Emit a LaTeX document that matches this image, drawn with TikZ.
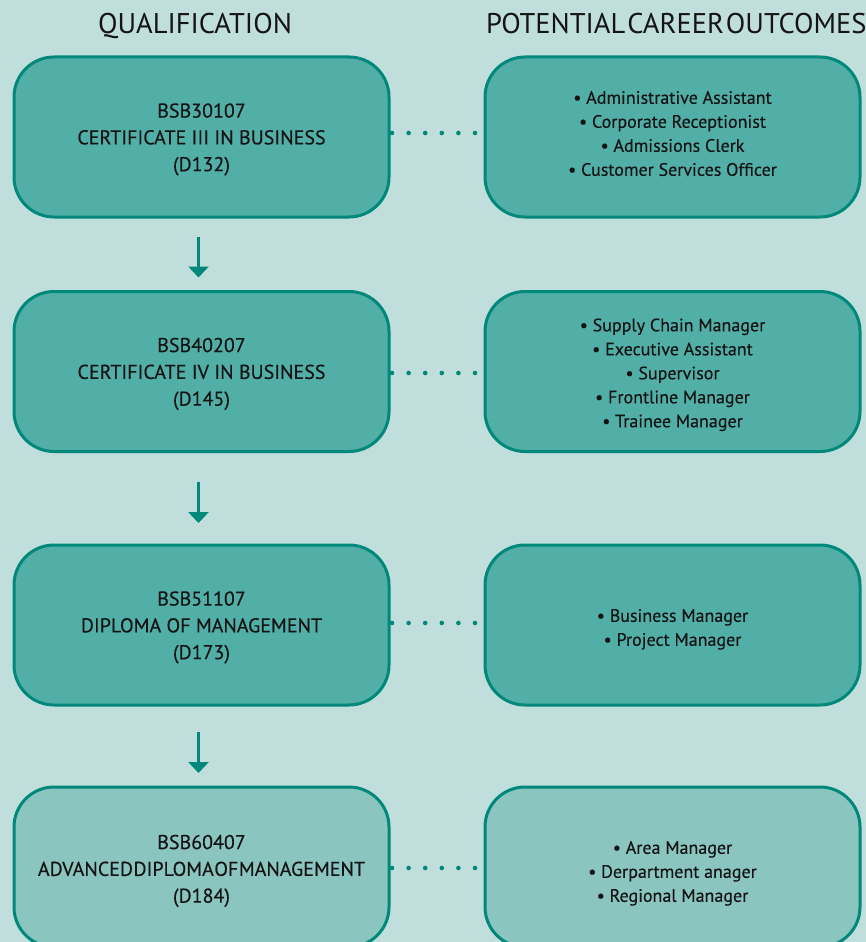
\documentclass[tikz,border=0pt]{standalone}
\usepackage{fontspec}
\setmainfont{PT Sans}
\newfontfamily\boxfont[FakeBold=0.35]{PT Sans}
\usetikzlibrary{arrows.meta}
\definecolor{bgc}{HTML}{C0DEDC}
\definecolor{fillA}{HTML}{52AFA7}
\definecolor{fillB}{HTML}{8AC5C0}
\definecolor{edgec}{HTML}{00897A}
\definecolor{txt}{HTML}{141414}
\newcommand{\lines}[1]{\begin{tabular}{@{}c@{}}#1\end{tabular}}
\tikzset{
  card/.style={draw=edgec, line width=3pt, rounded corners=40pt, minimum width=375pt,
    minimum height=160pt, outer sep=0pt, inner sep=0pt},
  cardA/.style={card, fill=fillA},
  cardB/.style={card, fill=fillB},
  qtext/.style={inner sep=0pt, text=txt, font=\boxfont\fontsize{20}{26.8}\selectfont},
  ctext/.style={inner sep=0pt, text=txt, font=\boxfont\fontsize{18}{24}\selectfont},
  header/.style={font=\fontsize{28.5}{30}\selectfont, text=txt, inner sep=0pt, outer sep=0pt, anchor=base},
  dotline/.style={edgec, line width=4.6pt, line cap=round, dash pattern=on 0pt off 16.6pt},
  downarrow/.style={draw=edgec, line width=3.6pt, -{Triangle[width=20pt,length=11pt]}}
}
\begin{document}
\begin{tikzpicture}[x=1pt,y=-1pt]
\fill[bgc] (0,0) rectangle (866,942);
\useasboundingbox (0,0) rectangle (866,942);
\begin{scope}
\clip (0,0) rectangle (866,942);
% headers
\node[header] (hq) at (195,34) {QUALIFICATION};
\node[header, anchor=base west] (hc) at (486,34) {\spaceskip=2pt POTENTIAL CAREER OUTCOMES};
% qualification boxes
\node[cardA] (q1) at (201.5,137) {};
\node[cardA] (q2) at (201.5,371.5) {};
\node[cardA] (q3) at (201.5,625) {};
\node[cardB] (q4) at (201.5,867) {};
\node[qtext] (q1t) at ([yshift=-2pt]q1.center) {\lines{BSB30107\\CERTIFICATE III IN BUSINESS\\(D132)}};
\node[qtext] (q2t) at ([yshift=-2pt]q2.center) {\lines{BSB40207\\CERTIFICATE IV IN BUSINESS\\(D145)}};
\node[qtext] (q3t) at ([yshift=-2pt]q3.center) {\lines{BSB51107\\DIPLOMA OF MANAGEMENT\\(D173)}};
\node[qtext] (q4t) at ([yshift=-3.5pt]q4.center) {\lines{BSB60407\\{\spaceskip=0.5pt ADVANCED DIPLOMA OF MANAGEMENT}\\(D184)}};
% career boxes
\node[cardA] (c1) at (672.5,137) {};
\node[cardA] (c2) at (672.5,371.5) {};
\node[cardA] (c3) at (672.5,625) {};
\node[cardB] (c4) at (672.5,867) {};
\node[ctext] (c1t) at ([yshift=2pt]c1.center) {\lines{• Administrative Assistant\\• Corporate Receptionist\\• Admissions Clerk\\• Customer Services Officer}};
\node[ctext] (c2t) at ([yshift=-3pt]c2.center) {\lines{• Supply Chain Manager\\• Executive Assistant\\• Supervisor\\• Frontline Manager\\• Trainee Manager}};
\node[ctext] (c3t) at ([yshift=-4pt]c3.center) {\lines{• Business Manager\\• Project Manager}};
\node[ctext] (c4t) at ([yshift=-6pt]c4.center) {\lines{• Area Manager\\• Derpartment anager\\• Regional Manager}};
% dotted connectors
\draw[dotline, shorten <=3pt, shorten >=6pt] ([yshift=4pt]q1.east) -- ([yshift=4pt]c1.west);
\draw[dotline, shorten <=3pt, shorten >=6pt] ([yshift=-1.5pt]q2.east) -- ([yshift=-1.5pt]c2.west);
\draw[dotline, shorten <=3pt, shorten >=6pt] ([yshift=2pt]q3.east) -- ([yshift=2pt]c3.west);
\draw[dotline, shorten <=3pt, shorten >=6pt] ([yshift=-1pt]q4.east) -- ([yshift=-1pt]c4.west);
% arrows
\draw[downarrow] ([xshift=-3pt,yshift=-20pt]q1.south) -- ([xshift=-3pt,yshift=14pt]q2.north);
\draw[downarrow] ([xshift=-3pt,yshift=-30pt]q2.south) -- ([xshift=-3pt,yshift=22pt]q3.north);
\draw[downarrow] ([xshift=-3pt,yshift=-27pt]q3.south) -- ([xshift=-3pt,yshift=14pt]q4.north);
\end{scope}
\end{tikzpicture}
\end{document}
